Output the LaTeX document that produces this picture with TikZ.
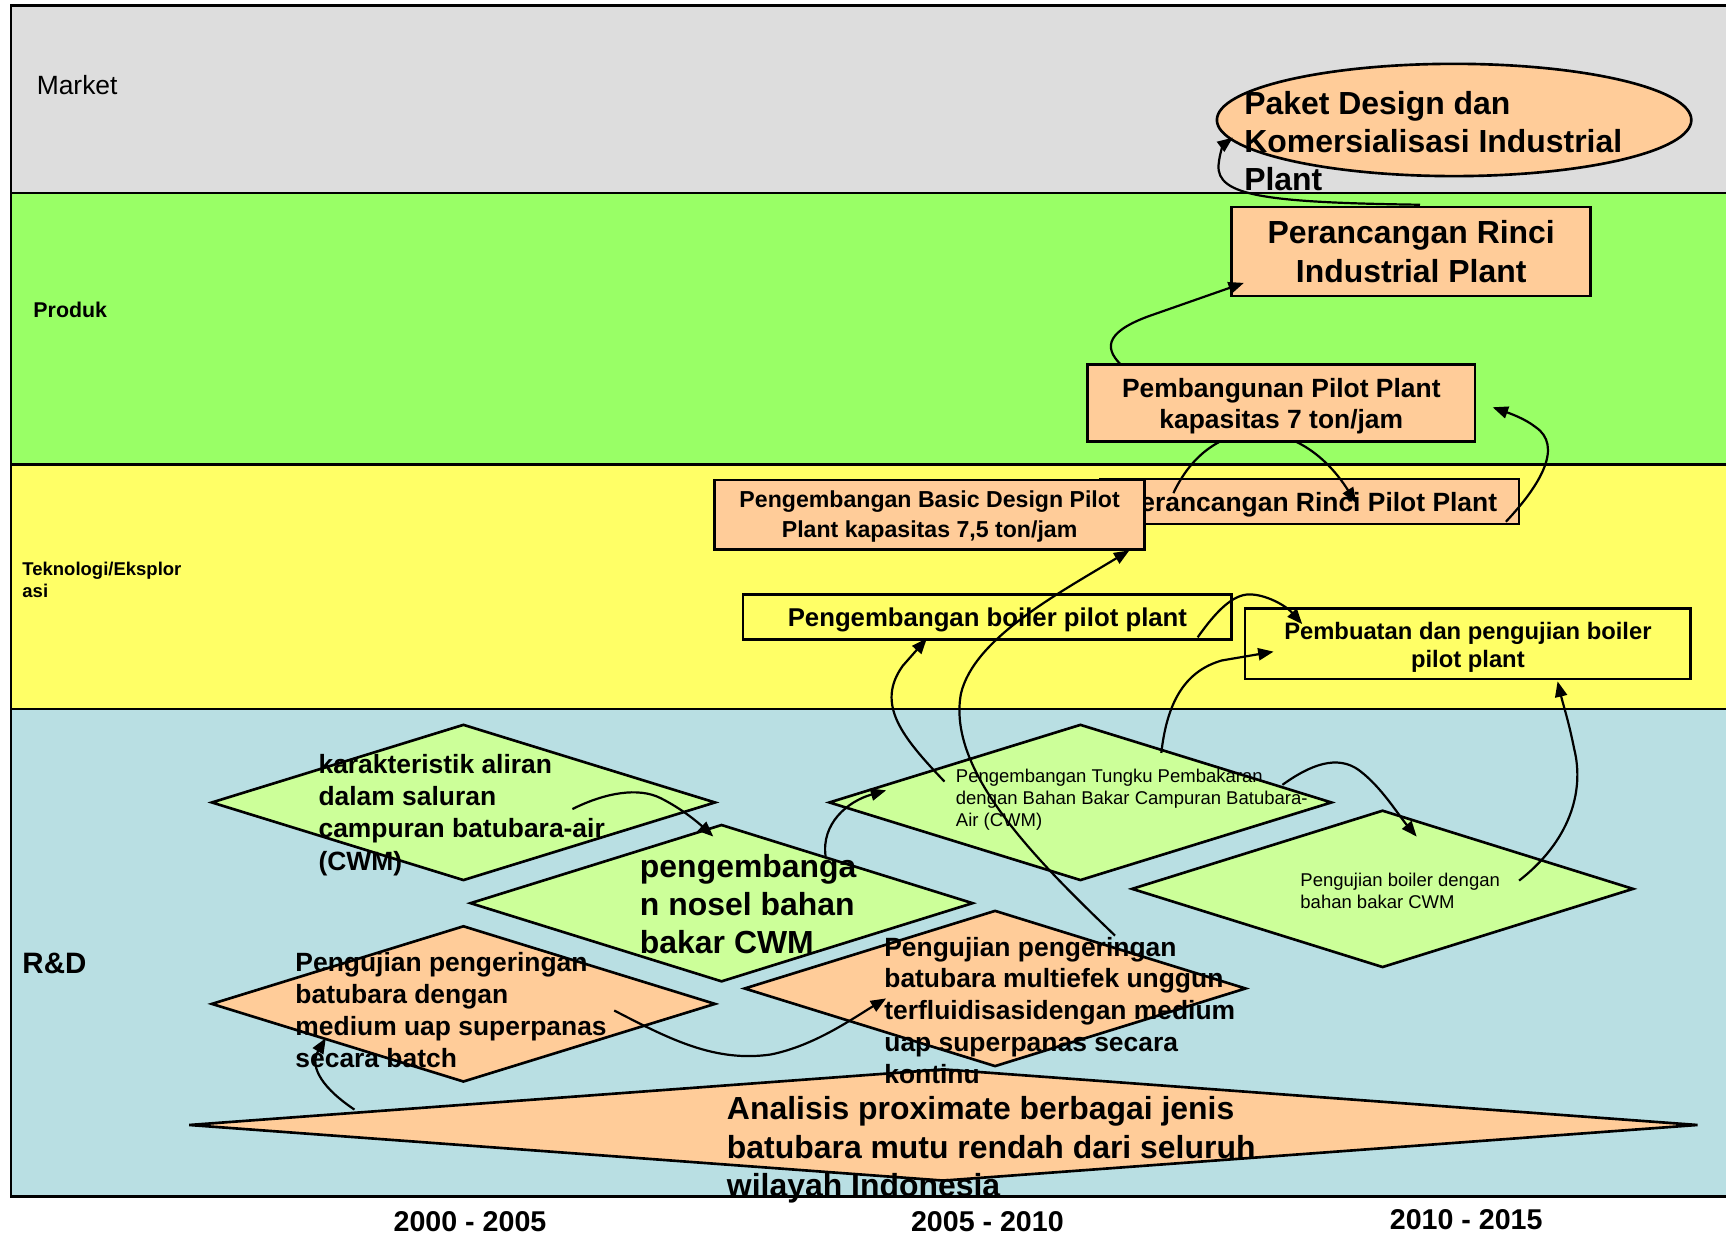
\documentclass[tikz,border=0pt]{standalone}
\usepackage{fontspec}
\setmainfont{Liberation Sans}
\usetikzlibrary{arrows.meta,shapes.geometric}
\newcommand\myfs[2]{\fontsize{#1}{#2}\selectfont}
\definecolor{mktc}{HTML}{DDDDDD}
\definecolor{prodc}{HTML}{99FF66}
\definecolor{tekc}{HTML}{FFFF66}
\definecolor{rdc}{HTML}{B9DFE3}
\definecolor{peach}{HTML}{FFCC99}
\definecolor{lgreen}{HTML}{CCFF99}
\begin{document}
\begin{tikzpicture}[x=0.5pt,y=-0.5pt,
  band/.style={line width=1pt},
  box/.style={draw, line width=1.2pt, inner sep=0pt},
  boxtxt/.style={inner sep=0pt, align=center},
  dia/.style={draw, diamond, line width=1.2pt, inner sep=0pt},
  txt/.style={anchor=base west, inner sep=0pt, align=left},
  lbl/.style={anchor=base west, inner sep=0pt, align=left},
  yr/.style={inner sep=0pt, font=\myfs{13pt}{15pt}\bfseries},
  conn/.style={line width=1pt, -{Triangle[length=7pt,width=5.5pt]}}]
\useasboundingbox (0,0) rectangle (1568,1122);
% bands
\fill[mktc] (10,5) rectangle (1568,175);
\fill[prodc] (10,175) rectangle (1568,422);
\fill[tekc] (10,422) rectangle (1568,644);
\fill[rdc] (10,644) rectangle (1568,1087);
\draw[band] (10,175) -- (1568,175);
\draw[band] (10,422) -- (1568,422);
\draw[band] (10,644) -- (1568,644);
\draw[line width=1.3pt] (1568,5) -- (10,5) -- (10,1087) -- (1568,1087);
% band labels (anchor = baseline of last line)
\node[lbl, font=\myfs{12pt}{14pt}] (lmarket) at (33,86) {Market};
\node[lbl, font=\myfs{9.7pt}{11pt}\bfseries] (lprod) at (30,288) {Produk};
\node[lbl, font=\myfs{8.4pt}{10pt}\bfseries] (ltek) at (20,543) {Teknologi/Eksplor\\asi};
\node[lbl, font=\myfs{13.4pt}{15pt}\bfseries] (lrd) at (20,884.5) {R\&D};
% years
\node[yr] (y1) at (427,1110) {2000 - 2005};
\node[yr] (y2) at (897,1110) {2005 - 2010};
\node[yr] (y3) at (1332,1108) {2010 - 2015};
% R&D diamonds
\node[dia, fill=lgreen, minimum width=229pt, minimum height=71pt] (dkar) at (421,729) {};
\node[dia, fill=lgreen, minimum width=228.5pt, minimum height=71.5pt] (dnos) at (655.5,820.5) {};
\node[dia, fill=lgreen, minimum width=228.5pt, minimum height=71pt] (dtun) at (981.5,729) {};
\node[dia, fill=lgreen, minimum width=228pt, minimum height=71.5pt] (dboi) at (1256,807.5) {};
\node[dia, fill=peach, minimum width=229pt, minimum height=71pt] (dbat) at (421,912) {};
\node[dia, fill=peach, minimum width=228pt, minimum height=71pt] (dmul) at (904,898) {};
\node[dia, fill=peach, minimum width=685.5pt, minimum height=51pt] (dana) at (857,1022) {};
% upper boxes
\node[draw, ellipse, line width=1.2pt, fill=peach, minimum width=215.5pt, minimum height=51pt, inner sep=0pt] (epak) at (1321,109) {};
\node[box, fill=tekc, minimum width=202.5pt, minimum height=32pt] (bpem) at (1333.5,585) {};
\node[boxtxt, font=\myfs{10.8pt}{13pt}\bfseries] (bpemT) at ([yshift=-1.5pt]bpem.center) {Pembuatan dan pengujian boiler\\pilot plant};
\node[box, fill=tekc, minimum width=222pt, minimum height=20.5pt] (bboi) at (897,560.5) {};
\node[boxtxt, font=\myfs{11.7pt}{14pt}\bfseries] (bboiT) at ([yshift=-1.5pt]bboi.center) {Pengembangan boiler pilot plant};
\node[box, fill=peach, minimum width=190pt, minimum height=20.5pt] (bprp) at (1190,455.5) {};
\node[boxtxt, font=\myfs{12pt}{14.5pt}\bfseries] (bprpT) at ([yshift=-1.5pt]bprp.center) {Perancangan Rinci Pilot Plant};
% connector partly hidden behind Pembangunan box
\coordinate (dS) at (1066,448);
\coordinate (dE) at (1232,457);
\draw[conn] (dS) .. controls (1100,375) and (1180,375) .. (dE);
\node[box, fill=peach, minimum width=195.5pt, minimum height=31.5pt] (bbas) at (844.5,467.5) {};
\node[boxtxt, font=\myfs{10.5pt}{13.5pt}\bfseries] (bbasT) at ([yshift=-1pt]bbas.center) {Pengembangan Basic Design Pilot\\Plant kapasitas 7,5 ton/jam};
\node[box, fill=peach, minimum width=176pt, minimum height=35pt] (bpil) at (1164,366) {};
\node[boxtxt, font=\myfs{12pt}{14.5pt}\bfseries] (bpilT) at ([yshift=-1.5pt]bpil.center) {Pembangunan Pilot Plant\\kapasitas 7 ton/jam};
\node[box, fill=peach, minimum width=163pt, minimum height=40.5pt] (bind) at (1282,228.5) {};
\node[boxtxt, font=\myfs{14.5pt}{17.5pt}\bfseries] (bindT) at (bind.center) {Perancangan Rinci\\Industrial Plant};
% texts (anchor = baseline of last line)
\node[txt, font=\myfs{14.5pt}{17.25pt}\bfseries] (tpak) at (1130,173) {Paket Design dan\\Komersialisasi Industrial\\Plant};
\node[txt, font=\myfs{12pt}{14.65pt}\bfseries] (tkar) at (289,790.5) {karakteristik aliran\\dalam saluran\\campuran batubara-air\\(CWM)};
\node[txt, font=\myfs{14.5pt}{17.25pt}\bfseries] (tnos) at (581,866) {pengembanga\\n nosel bahan\\bakar CWM};
\node[txt, font=\myfs{8.4pt}{10pt}] (ttun) at (868,751) {Pengembangan Tungku Pembakaran\\dengan Bahan Bakar Campuran Batubara-\\Air (CWM)};
\node[txt, font=\myfs{8.4pt}{10pt}] (tboi) at (1181,825) {Pengujian boiler dengan\\bahan bakar CWM};
\node[txt, font=\myfs{12pt}{14.5pt}\bfseries] (tbat) at (268,969.5) {Pengujian pengeringan\\batubara dengan\\medium uap superpanas\\secara batch};
\node[txt, font=\myfs{12pt}{14.5pt}\bfseries] (tmul) at (803,984.5) {Pengujian pengeringan\\batubara multiefek unggun\\terfluidisasidengan medium\\uap superpanas secara\\kontinu};
\node[txt, font=\myfs{14.5pt}{17.5pt}\bfseries] (tana) at (660,1087) {Analisis proximate berbagai jenis\\batubara mutu rendah dari seluruh\\wilayah Indonesia};
% connector end points
\coordinate (aS) at (1290,186);
\coordinate (aE) at (1120,125);
\coordinate (bS) at (1018,331);
\coordinate (bE) at (1130,257);
\coordinate (cS) at (1368,474);
\coordinate (cE) at (1356,370);
\coordinate (eS) at (858,710);
\coordinate (eE) at (842,580);
\coordinate (fS) at (1013,850);
\coordinate (fE) at (1026,500);
\coordinate (gS) at (1088,579);
\coordinate (gE) at (1183,567);
\coordinate (hS) at (1055,684);
\coordinate (hE) at (1157,592);
\coordinate (iS) at (1165,713);
\coordinate (iE) at (1287,760);
\coordinate (jS) at (1380,800);
\coordinate (jE) at (1415,619);
\coordinate (kS) at (520,735);
\coordinate (kE) at (648,760);
\coordinate (lS) at (750,778);
\coordinate (lE) at (805,718);
\coordinate (mS) at (558,918);
\coordinate (mE) at (805,907);
\coordinate (nS) at (322,1008);
\coordinate (nE) at (296,943);
% connectors
\draw[conn] (aS) .. controls (1150,184) and (1105,178) .. (1107,150) .. controls (1108,138) and (1112,131) .. (aE);
\draw[conn] (bS) .. controls (1002,315) and (1005,300) .. (1050,285) -- (bE);
\draw[conn] (cS) .. controls (1400,440) and (1420,405) .. (1395,388) .. controls (1385,380) and (1370,375) .. (cE);
\draw[conn] (eS) .. controls (820,670) and (795,640) .. (820,605) -- (eE);
\draw[conn] (fS) .. controls (940,780) and (860,700) .. (873,630) .. controls (885,580) and (960,540) .. (fE);
\draw[conn] (gS) .. controls (1105,555) and (1120,540) .. (1135,540) .. controls (1150,540) and (1168,550) .. (gE);
\draw[conn] (hS) .. controls (1060,640) and (1075,610) .. (1110,600) -- (hE);
\draw[conn] (iS) .. controls (1190,695) and (1215,685) .. (1235,700) .. controls (1255,715) and (1270,740) .. (iE);
\draw[conn] (jS) .. controls (1425,765) and (1440,720) .. (1430,680) .. controls (1425,655) and (1420,640) .. (jE);
\draw[conn] (kS) .. controls (550,720) and (580,715) .. (600,725) .. controls (620,735) and (635,748) .. (kE);
\draw[conn] (lS) .. controls (746,748) and (770,728) .. (lE);
\draw[conn] (mS) .. controls (610,945) and (650,965) .. (700,958) .. controls (740,950) and (775,925) .. (mE);
\draw[conn] (nS) .. controls (295,990) and (280,970) .. (nE);
\end{tikzpicture}
\end{document}
